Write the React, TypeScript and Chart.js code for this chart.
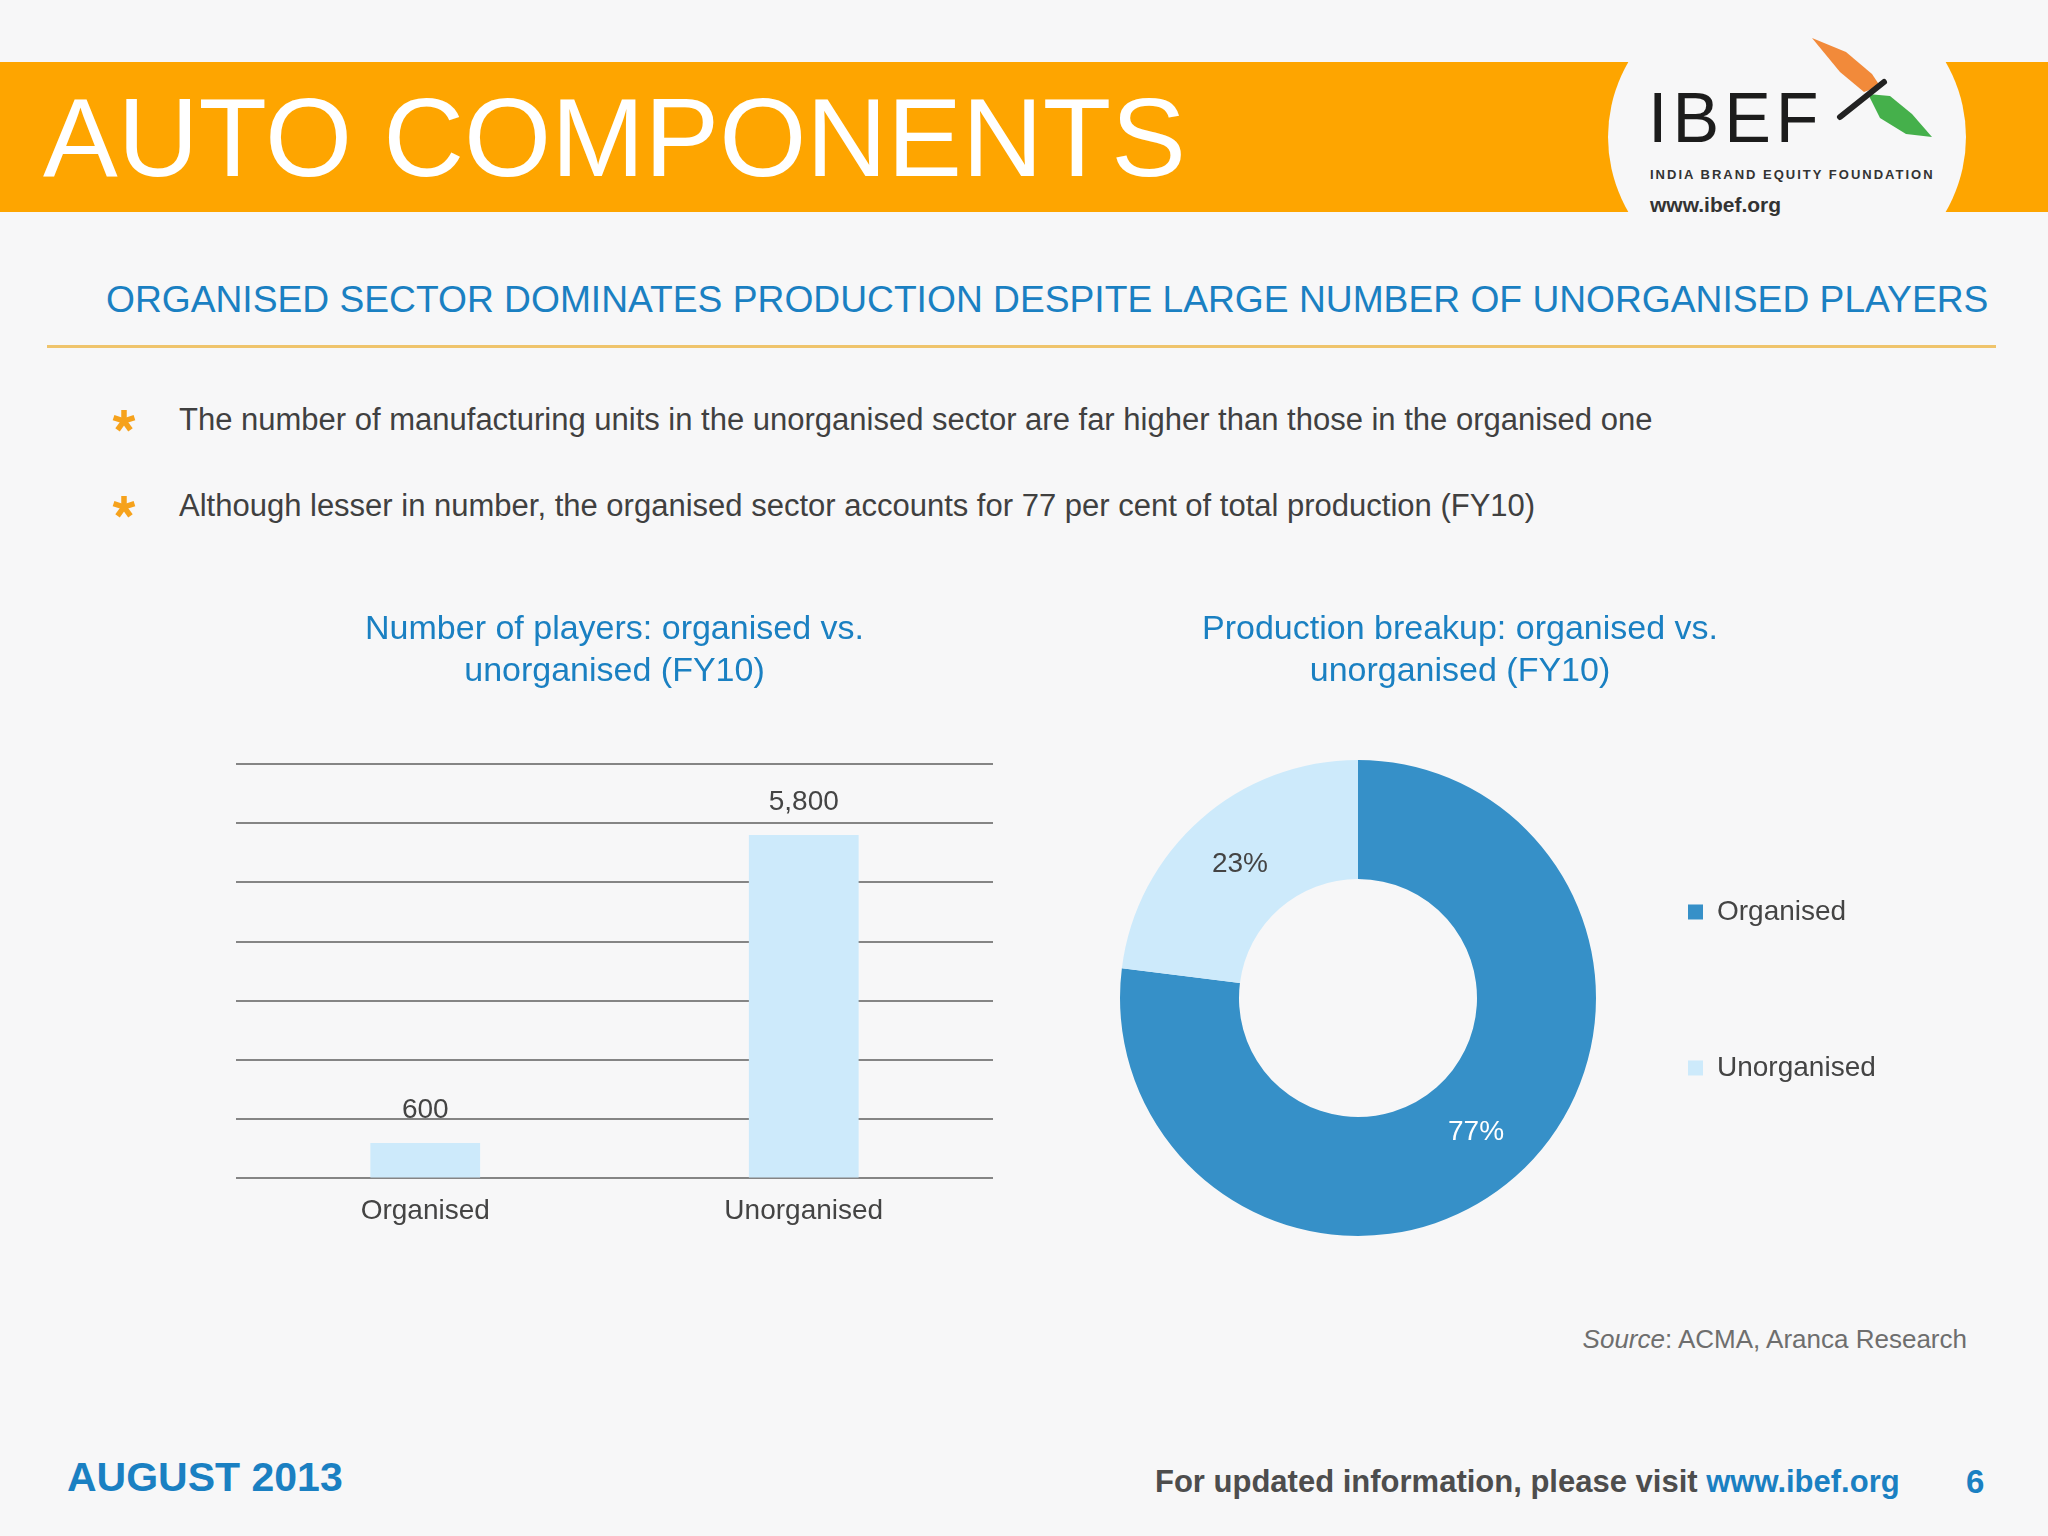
import React, { useEffect, useRef } from 'react';
import { Chart, registerables } from 'chart.js';

Chart.register(...registerables);

// ---------- data ----------
const barCategories = ['Organised', 'Unorganised'];
const barValues = [600, 5800];
const barAxisMin = 0;
const barAxisMax = 7000;
const barAxisStep = 1000;
const barTitle = ['Number of players: organised vs.', 'unorganised (FY10)'];

const donutLabels = ['Organised', 'Unorganised'];
const donutValues = [77, 23];
const donutTitle = ['Production breakup: organised vs.', 'unorganised (FY10)'];

// ---------- style ----------
const FONT = "'Liberation Sans', Arial, Helvetica, sans-serif";
const BG = '#f7f7f8';
const ORANGE = '#fea500';
const BLUE_TEXT = '#1a80c2';
const LABEL_GRAY = '#444444';
const LIGHT_BLUE = '#cdeafb';
const DARK_BLUE = '#3690c8';
const donutColors = [DARK_BLUE, LIGHT_BLUE];
const donutValueColors = ['#ffffff', LABEL_GRAY];

const barValueLabels = {
  id: 'barValueLabels',
  afterDatasetsDraw(chart: any, _args: any, opts: any) {
    const { ctx } = chart;
    chart.data.datasets.forEach((ds: any, di: number) => {
      const meta = chart.getDatasetMeta(di);
      meta.data.forEach((el: any, i: number) => {
        const v = ds.data[i] as number;
        ctx.save();
        ctx.font = `${opts.size}px ${FONT}`;
        ctx.fillStyle = opts.color;
        ctx.textAlign = 'center';
        ctx.textBaseline = 'middle';
        ctx.fillText(v.toLocaleString('en-US'), el.x, el.y - opts.offset);
        ctx.restore();
      });
    });
  },
};

const arcValueLabels = {
  id: 'arcValueLabels',
  afterDatasetsDraw(chart: any, _args: any, opts: any) {
    const { ctx } = chart;
    const ds = chart.data.datasets[0];
    const meta = chart.getDatasetMeta(0);
    meta.data.forEach((arc: any, i: number) => {
      const p = arc.getCenterPoint();
      ctx.save();
      ctx.font = `${opts.size}px ${FONT}`;
      ctx.fillStyle = opts.colors[i];
      ctx.textAlign = 'center';
      ctx.textBaseline = 'middle';
      ctx.fillText(`${ds.data[i]}%`, p.x, p.y);
      ctx.restore();
    });
  },
};

// shifts the (already laid-out) legend box and widens its clip area
const legendNudge = {
  id: 'legendNudge',
  afterLayout(chart: any, _args: any, opts: any) {
    const lg = chart.legend;
    if (lg && opts) {
      lg.left += opts.dx || 0;
      lg.top += opts.dy || 0;
      lg.right += opts.extend || 0;
      lg.width = lg.right - lg.left;
    }
  },
};

function Asterisk({ cx, cy }: { cx: number; cy: number }) {
  const angles = [0, 72, 144, 216, 288];
  return (
    <svg
      style={{ position: 'absolute', left: cx - 13, top: cy - 13 }}
      width={26}
      height={26}
      viewBox="-13 -13 26 26"
    >
      {angles.map((a) => {
        const r = (a * Math.PI) / 180;
        return (
          <line
            key={a}
            x1={0}
            y1={0}
            x2={11 * Math.sin(r)}
            y2={-11 * Math.cos(r)}
            stroke="#f6a21c"
            strokeWidth={5.5}
          />
        );
      })}
    </svg>
  );
}

export default function App() {
  const barRef = useRef<HTMLCanvasElement>(null);
  const donutRef = useRef<HTMLCanvasElement>(null);

  useEffect(() => {
    Chart.defaults.font.family = FONT;
    const bar = new Chart(barRef.current as HTMLCanvasElement, {
      type: 'bar',
      data: {
        labels: barCategories,
        datasets: [
          {
            data: barValues,
            backgroundColor: LIGHT_BLUE,
            borderWidth: 0,
            barPercentage: 0.58,
            categoryPercentage: 0.5,
          },
        ],
      },
      options: {
        responsive: false,
        animation: false,
        layout: { padding: { left: 86, right: 87, top: 0, bottom: 3 } },
        scales: {
          x: {
            grid: { display: false, drawTicks: false },
            border: { display: false },
            ticks: { color: LABEL_GRAY, font: { size: 28 }, padding: 16 },
          },
          y: {
            min: barAxisMin,
            max: barAxisMax,
            ticks: { stepSize: barAxisStep, display: false },
            grid: { color: '#858585', lineWidth: 2, drawTicks: false },
            border: { display: false },
          },
        },
        plugins: {
          legend: { display: false },
          tooltip: { enabled: false },
          title: {
            display: true,
            text: barTitle,
            color: BLUE_TEXT,
            font: { size: 34, weight: 'normal', lineHeight: 1.235 },
            padding: { top: 19, bottom: 71 },
          },
          barValueLabels: { size: 28, color: LABEL_GRAY, offset: 33 },
        } as any,
      },
      plugins: [barValueLabels],
    });

    const donut = new Chart(donutRef.current as HTMLCanvasElement, {
      type: 'doughnut',
      data: {
        labels: donutLabels,
        datasets: [
          {
            data: donutValues,
            backgroundColor: donutColors,
            borderWidth: 0,
            hoverOffset: 0,
            offset: 0,
          },
        ],
      },
      options: {
        responsive: false,
        animation: false,
        cutout: '50%',
        layout: { padding: { left: 20, right: 160, top: 0, bottom: 0 } },
        plugins: {
          tooltip: { enabled: false },
          title: {
            display: true,
            text: donutTitle,
            color: BLUE_TEXT,
            font: { size: 34, weight: 'normal', lineHeight: 1.235 },
            padding: { top: 19, bottom: 43 },
          },
          legend: {
            position: 'right',
            align: 'center',
            fullSize: false,
            maxWidth: 204,
            labels: {
              boxWidth: 15,
              boxHeight: 15,
              padding: 128,
              color: LABEL_GRAY,
              font: { size: 28 },
            },
          },
          legendNudge: { dx: -36, dy: -16, extend: 150 },
          arcValueLabels: { size: 28, colors: donutValueColors },
        } as any,
      },
      plugins: [arcValueLabels, legendNudge],
    });

    return () => {
      bar.destroy();
      donut.destroy();
    };
  }, []);

  const abs = (s: React.CSSProperties): React.CSSProperties => ({
    position: 'absolute',
    whiteSpace: 'nowrap',
    lineHeight: 1,
    margin: 0,
    ...s,
  });

  return (
    <div
      style={{
        position: 'absolute',
        left: 0,
        top: 0,
        width: 2048,
        height: 1536,
        background: BG,
        overflow: 'hidden',
        fontFamily: FONT,
      }}
    >
      {/* header band */}
      <div
        style={{
          position: 'absolute',
          left: 0,
          top: 62,
          width: 2048,
          height: 150,
          background: ORANGE,
          overflow: 'hidden',
        }}
      >
        <div
          style={{
            position: 'absolute',
            left: 1608,
            top: -87,
            width: 358,
            height: 324,
            borderRadius: '50%',
            background: BG,
          }}
        />
      </div>
      <div style={abs({ left: 43, top: 82, fontSize: 112, color: '#ffffff' })}>AUTO COMPONENTS</div>

      {/* logo */}
      <div style={abs({ left: 1648, top: 83, fontSize: 70, color: '#1c1c1c', letterSpacing: 5 })}>IBEF</div>
      <svg style={{ position: 'absolute', left: 0, top: 0 }} width={2048} height={260}>
        <polygon points="1812,38 1846,52 1872,74 1880,86 1864,92 1840,72" fill="#f28a3a" />
        <polygon points="1868,94 1890,96 1912,114 1932,137 1906,134 1880,118" fill="#45b04b" />
        <line x1={1840} y1={117} x2={1884} y2={82} stroke="#222" strokeWidth={6} strokeLinecap="round" />
      </svg>
      <div
        style={abs({
          left: 1650,
          top: 168,
          fontSize: 13,
          fontWeight: 'bold',
          color: '#333',
          letterSpacing: 2,
        })}
      >
        INDIA BRAND EQUITY FOUNDATION
      </div>
      <div style={abs({ left: 1650, top: 194, fontSize: 21, fontWeight: 'bold', color: '#333' })}>www.ibef.org</div>

      {/* subtitle */}
      <div style={abs({ left: 106, top: 281, fontSize: 37.2, color: BLUE_TEXT })}>
        ORGANISED SECTOR DOMINATES PRODUCTION DESPITE LARGE NUMBER OF UNORGANISED PLAYERS
      </div>
      <div style={{ position: 'absolute', left: 47, top: 345, width: 1949, height: 3, background: '#efc46c' }} />

      {/* bullets */}
      <Asterisk cx={124} cy={421} />
      <div style={abs({ left: 179, top: 404, fontSize: 31, color: '#404040' })}>
        The number of manufacturing units in the unorganised sector are far higher than those in the organised one
      </div>
      <Asterisk cx={124} cy={507} />
      <div style={abs({ left: 179, top: 490, fontSize: 31, color: '#404040' })}>
        Although lesser in number, the organised sector accounts for 77 per cent of total production (FY10)
      </div>

      {/* charts */}
      <canvas
        ref={barRef}
        width={930}
        height={657}
        style={{ position: 'absolute', left: 150, top: 590, width: 930, height: 657 }}
      />
      <canvas
        ref={donutRef}
        width={860}
        height={670}
        style={{ position: 'absolute', left: 1100, top: 590, width: 860, height: 670 }}
      />

      {/* source */}
      <div style={abs({ right: 81, top: 1326, fontSize: 26, color: '#6e6e6e' })}>
        <i>Source</i>: ACMA, Aranca Research
      </div>

      {/* footer */}
      <div style={abs({ left: 67, top: 1457, fontSize: 41, fontWeight: 'bold', color: BLUE_TEXT })}>AUGUST 2013</div>
      <div style={abs({ left: 1155, top: 1466, fontSize: 31, fontWeight: 'bold', color: '#4d4d4d' })}>
        For updated information, please visit <span style={{ color: BLUE_TEXT }}>www.ibef.org</span>
      </div>
      <div style={abs({ left: 1966, top: 1465, fontSize: 33, fontWeight: 'bold', color: BLUE_TEXT })}>6</div>
    </div>
  );
}
